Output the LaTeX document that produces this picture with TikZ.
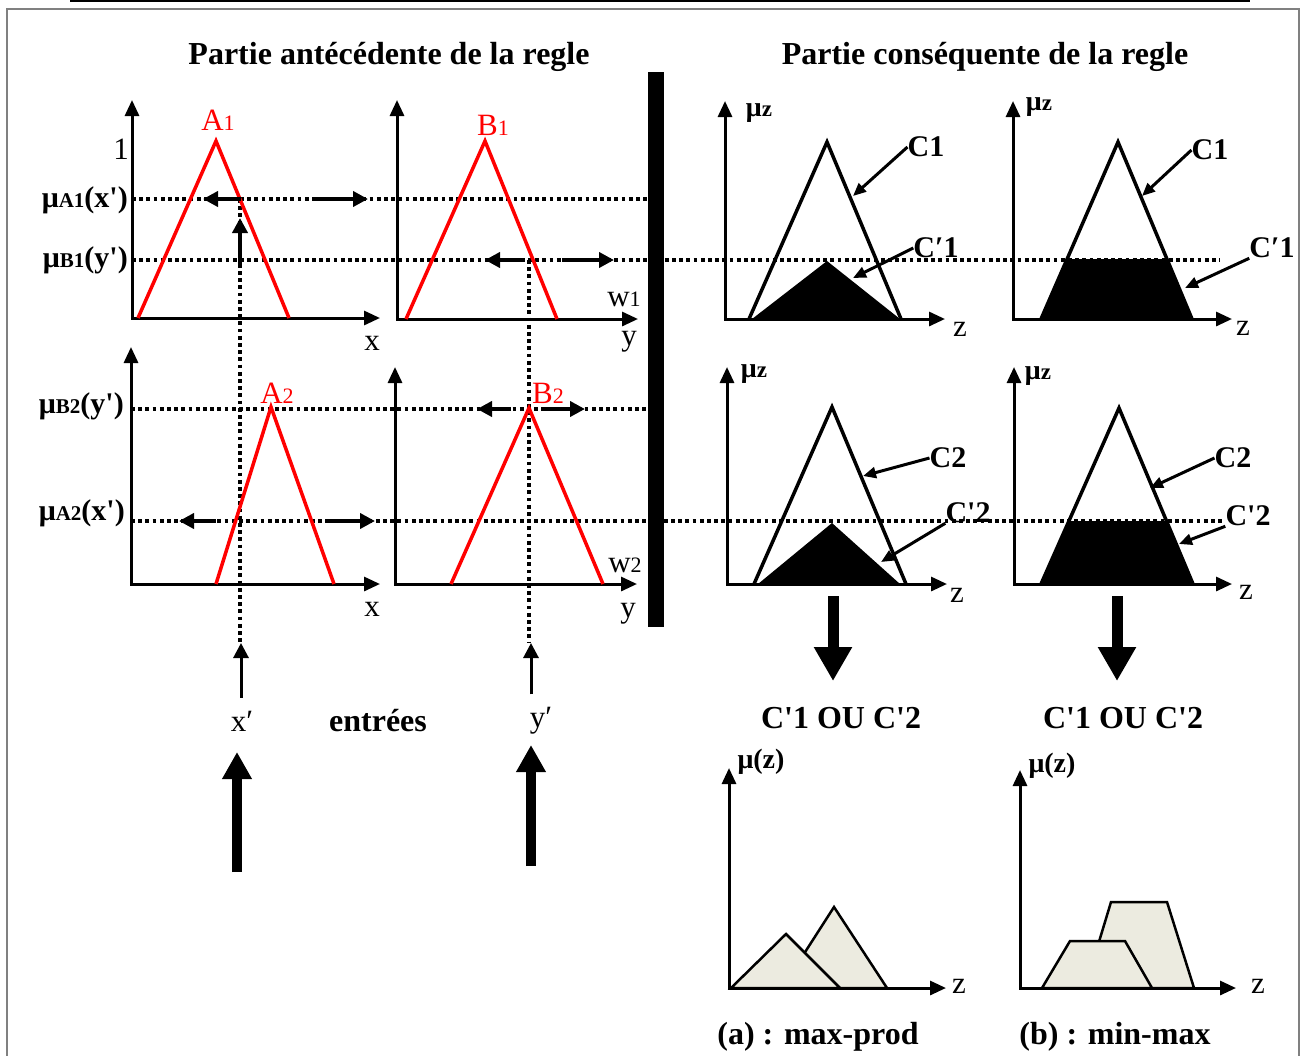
\documentclass[tikz,border=0pt]{standalone}
\usepackage{fontspec}
\setmainfont{Liberation Serif}[Ligatures=TeXOff]
\usetikzlibrary{arrows.meta}

\definecolor{sand}{RGB}{236,235,224}
\newcommand{\fsz}[1]{\fontsize{#1}{#1}\selectfont}

\begin{document}
\begin{tikzpicture}[x=1pt, y=-1pt, line join=miter,
  axis/.style={line width=3pt, {Triangle[length=16pt,width=14pt]}-{Triangle[length=16pt,width=14pt]}},
  memb/.style={red, line width=3.5pt},
  conc/.style={line width=3.5pt},
  guide/.style={line width=3.5pt, dash pattern=on 3.8pt off 3.4pt},
  flow/.style={line width=4pt, -{Triangle[length=15pt,width=15pt]}},
  pointer/.style={line width=3pt, -{Triangle[length=13pt,width=11pt]}},
  bigup/.style={line width=10pt, -{Triangle[length=27pt,width=28pt]}},
  bigdown/.style={line width=11pt, -{Triangle[length=34pt,width=36pt]}},
  result/.style={draw, line width=2.5pt, fill=sand},
  lbl/.style={inner sep=0pt, font=\fsz{31}},
  blbl/.style={inner sep=0pt, font=\bfseries\fsz{32}},
  clbl/.style={inner sep=0pt, font=\bfseries\fsz{30}},
  mulbl/.style={inner sep=0pt, anchor=east, font=\bfseries\fsz{30}},
  muzlbl/.style={inner sep=0pt, font=\bfseries\fsz{28}},
]
\useasboundingbox (0,0) rectangle (1305,1055);

% Frame
\draw[line width=2.5pt] (70,1) -- (1250,1);
\draw[gray, line width=1.5pt] (7,1070) |- (1299,9) -- (1299,1070);

% Titles
\node[blbl] (antTitle) at (389,57) {Partie antécédente de la regle};
\node[blbl] (consTitle) at (985,57) {Partie conséquente de la regle};

% --- Dotted levels and inputs ---
\draw[guide] (132,199) -- (648,199);   % muA1(x')
\draw[guide] (132,260) -- (1220,260);  % muB1(y')
\draw[guide] (131,409) -- (648,409);   % muB2(y')
\draw[guide] (131,521) -- (1222,521);  % muA2(x')
\draw[guide] (240,199) -- (240,642);   % x'
\draw[guide] (529,260) -- (529,642);   % y'

% --- Antecedent axes ---
\foreach \ox/\oy/\ex/\ty in {132/318/380/100, 397/319/638/100, 131/584/380/347, 395/584/637/367}{
  \draw[axis] (\ox,\ty) |- (\ex,\oy);
}

% Membership functions
\draw[memb] (138,318) -- (216,141) -- (289,318);
\draw[memb] (406,319) -- (485,141) -- (557,319);
\draw[memb] (216,584) -- (271,407) -- (334,584);
\draw[memb] (451,584) -- (529,408) -- (603,584);

\node[lbl, red] (A1) at (218,120) {A{\fsz{22}1}};
\node[lbl, red] (B1) at (493,125) {B{\fsz{22}1}};
\node[lbl, red] (A2) at (277,393) {A{\fsz{22}2}};
\node[lbl, red] (B2) at (548,393) {B{\fsz{22}2}};
\node[lbl] (one) at (121,149) {1};
\node[lbl] (w1) at (624,299) {w{\fsz{22}1}};
\node[lbl] (w2) at (625,565) {w{\fsz{22}2}};
\node[lbl] (xa) at (372,343) {x};
\node[lbl] (ya) at (629,342) {y};
\node[lbl] (xb) at (372,609) {x};
\node[lbl] (yb) at (628,614) {y};

\node[mulbl] (muA1) at (128,200) {μ{\fsz{21}A1}(x')};
\node[mulbl] (muB1) at (128,260) {μ{\fsz{21}B1}(y')};
\node[mulbl] (muB2) at (124,406) {μ{\fsz{21}B2}(y')};
\node[mulbl] (muA2) at (125,513) {μ{\fsz{21}A2}(x')};

% Small arrows on the levels
\draw[flow] (241,199) -- (203,199);
\draw[flow] (316,199) -- (368,199);
\draw[flow] (240,267) -- (240,218);
\draw[flow] (524,260) -- (485,260);
\draw[flow] (562,260) -- (614,260);
\draw[flow] (511,409) -- (477,409);
\draw[flow] (541,409) -- (585,409);
\draw[flow] (216,521) -- (179,521);
\draw[flow] (325,521) -- (375,521);

% --- Inputs ---
\node[lbl] (xin) at (242,721) {x′};
\node[blbl] (entrees) at (378,721) {entrées};
\node[lbl] (yin) at (541,721) {y′};
\coordinate (xtop) at (241,643);
\coordinate (ytop) at (531,643);
\draw[flow, line width=3pt] ([yshift=13pt,xshift=-1pt]xin.north) -- (xtop);
\draw[flow, line width=3pt] ([yshift=13pt,xshift=-10pt]yin.north) -- (ytop);
\draw[bigup] (237,872) -- (237,752);
\draw[bigup] (531,866) -- (531,745);

% Separator
\fill (648,72) rectangle (664,627);

% --- Consequent axes ---
\foreach \ox/\oy/\ex/\ty in {725/319/945/101, 1013/319/1232/101, 727/584/947/367, 1014/584/1232/367}{
  \draw[axis] (\ox,\ty) |- (\ex,\oy);
}

% max-prod column
\fill (752,319) -- (827,261) -- (900,319) -- cycle;
\draw[conc] (749,319) -- (827,142) -- (901,319);
\fill (758,584) -- (832,523) -- (900,584) -- cycle;
\draw[conc] (754,584) -- (832,407) -- (906,584);

% min-max column
\fill (1041,319) -- (1067,259) -- (1167,259) -- (1192,319) -- cycle;
\draw[conc] (1041,319) -- (1118,142) -- (1192,319);
\fill (1041,584) -- (1069,521) -- (1166,521) -- (1193,584) -- cycle;
\draw[conc] (1041,584) -- (1119,408) -- (1193,584);

\node[muzlbl] (muz1) at (759,113) {μ{\fsz{23}z}};
\node[muzlbl] (muz2) at (1039,107) {μ{\fsz{23}z}};
\node[muzlbl] (muz3) at (754,374) {μ{\fsz{23}z}};
\node[muzlbl] (muz4) at (1038,376) {μ{\fsz{23}z}};
\node[lbl] (z1) at (960,329) {z};
\node[lbl] (z2) at (1243,328) {z};
\node[lbl] (z3) at (957,595) {z};
\node[lbl] (z4) at (1246,592) {z};

% Labels and pointers
\node[clbl] (C1a) at (926,147) {C1};
\node[clbl] (Cp1a) at (936,248) {C′1};
\node[clbl] (C1b) at (1210,150) {C1};
\node[clbl] (Cp1b) at (1272,248) {C′1};
\node[clbl] (C2a) at (948,458) {C2};
\node[clbl] (Cp2a) at (968,513) {C'2};
\node[clbl] (C2b) at (1233,458) {C2};
\node[clbl] (Cp2b) at (1248,516) {C'2};

\coordinate (tC1a) at (853,196);
\coordinate (tCp1a) at (853,278);
\coordinate (tC1b) at (1142,196);
\coordinate (tCp1b) at (1185,288);
\coordinate (tC2a) at (863,476);
\coordinate (tCp2a) at (881,562);
\coordinate (tC2b) at (1150,488);
\coordinate (tCp2b) at (1179,544);

\draw[pointer] (C1a.west) -- (tC1a);
\draw[pointer] (Cp1a.west) -- (tCp1a);
\draw[pointer] (C1b.west) -- (tC1b);
\draw[pointer] (Cp1b.south west) -- (tCp1b);
\draw[pointer] (C2a.west) -- (tC2a);
\draw[pointer] (Cp2a.south west) -- (tCp2a);
\draw[pointer] (C2b.west) -- (tC2b);
\draw[pointer] (Cp2b.south west) -- (tCp2b);

% --- Aggregation ---
\draw[bigdown] (833,596) -- (833,681);
\draw[bigdown] (1117,596) -- (1117,681);
\node[blbl] (orA) at (841,718) {C'1 OU C'2};
\node[blbl] (orB) at (1123,718) {C'1 OU C'2};

\draw[axis] (729,768) |- (946,988);
\draw[axis] (1020,770) |- (1236,988);
\node[muzlbl] (muzA) at (761,762) {μ(z)};
\node[muzlbl] (muzB) at (1052,766) {μ(z)};
\node[lbl] (zA) at (959,986) {z};
\node[lbl] (zB) at (1258,986) {z};

\draw[result] (782,988) -- (834,907) -- (887,988) -- cycle;
\draw[result] (731,988) -- (786,934) -- (840,988) -- cycle;
\draw[result] (1085,988) -- (1111,902) -- (1167,902) -- (1194,988) -- cycle;
\draw[result] (1042,988) -- (1070,941) -- (1125,941) -- (1152,988) -- cycle;

\node[blbl] (maxprod) at (818,1037) {(a) : max-prod};
\node[blbl] (minmax) at (1115,1037) {(b) : min-max};

\end{tikzpicture}
\end{document}
